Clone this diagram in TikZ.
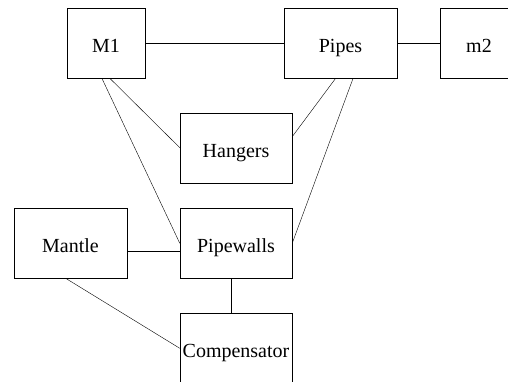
\documentclass[tikz,border=0pt]{standalone}
\usepackage{fontspec}
\setmainfont{Liberation Serif}
\begin{document}
\begin{tikzpicture}[x=1pt, y=-1pt, font=\fontsize{20}{24}\selectfont,
  box/.style={draw, rectangle, inner sep=0pt, minimum height=70pt,
    text height=19pt, text depth=0pt}]

\clip (0,0) rectangle (508,381);

\node[box, minimum width=78pt] (m1) at (106,43.3) {M1};
\node[box, minimum width=113pt] (pipes) at (340.5,43.3) {Pipes};
\node[box, minimum width=78pt] (m2) at (479,43.3) {m2};

\node[box, minimum width=112pt] (hangers) at (236,147.7) {Hangers};

\node[box, minimum width=113pt] (mantle) at (70.5,243.3) {Mantle};
\node[box, minimum width=112pt] (pipewalls) at (236,243.3) {Pipewalls};

\node[box, minimum width=112pt] (comp) at (236,348.3) {Compensator};

\draw (m1.east)--(pipes.west);
\draw (pipes.east)--(m2.west);
\draw ([xshift=4pt]m1.south)--(hangers.west);
\draw ([xshift=-4pt]m1.south)--(pipewalls.west);
\draw ([xshift=-5pt]pipes.south)--([yshift=11pt]hangers.east);
\draw ([xshift=12.5pt]pipes.south)--(pipewalls.east);
\draw ([yshift=-8pt]mantle.east)--([yshift=-8pt]pipewalls.west);
\draw ([xshift=-4.5pt]mantle.south)--(comp.west);
\draw ([xshift=-4.5pt]pipewalls.south)--([xshift=-4.5pt]comp.north);
\end{tikzpicture}
\end{document}
